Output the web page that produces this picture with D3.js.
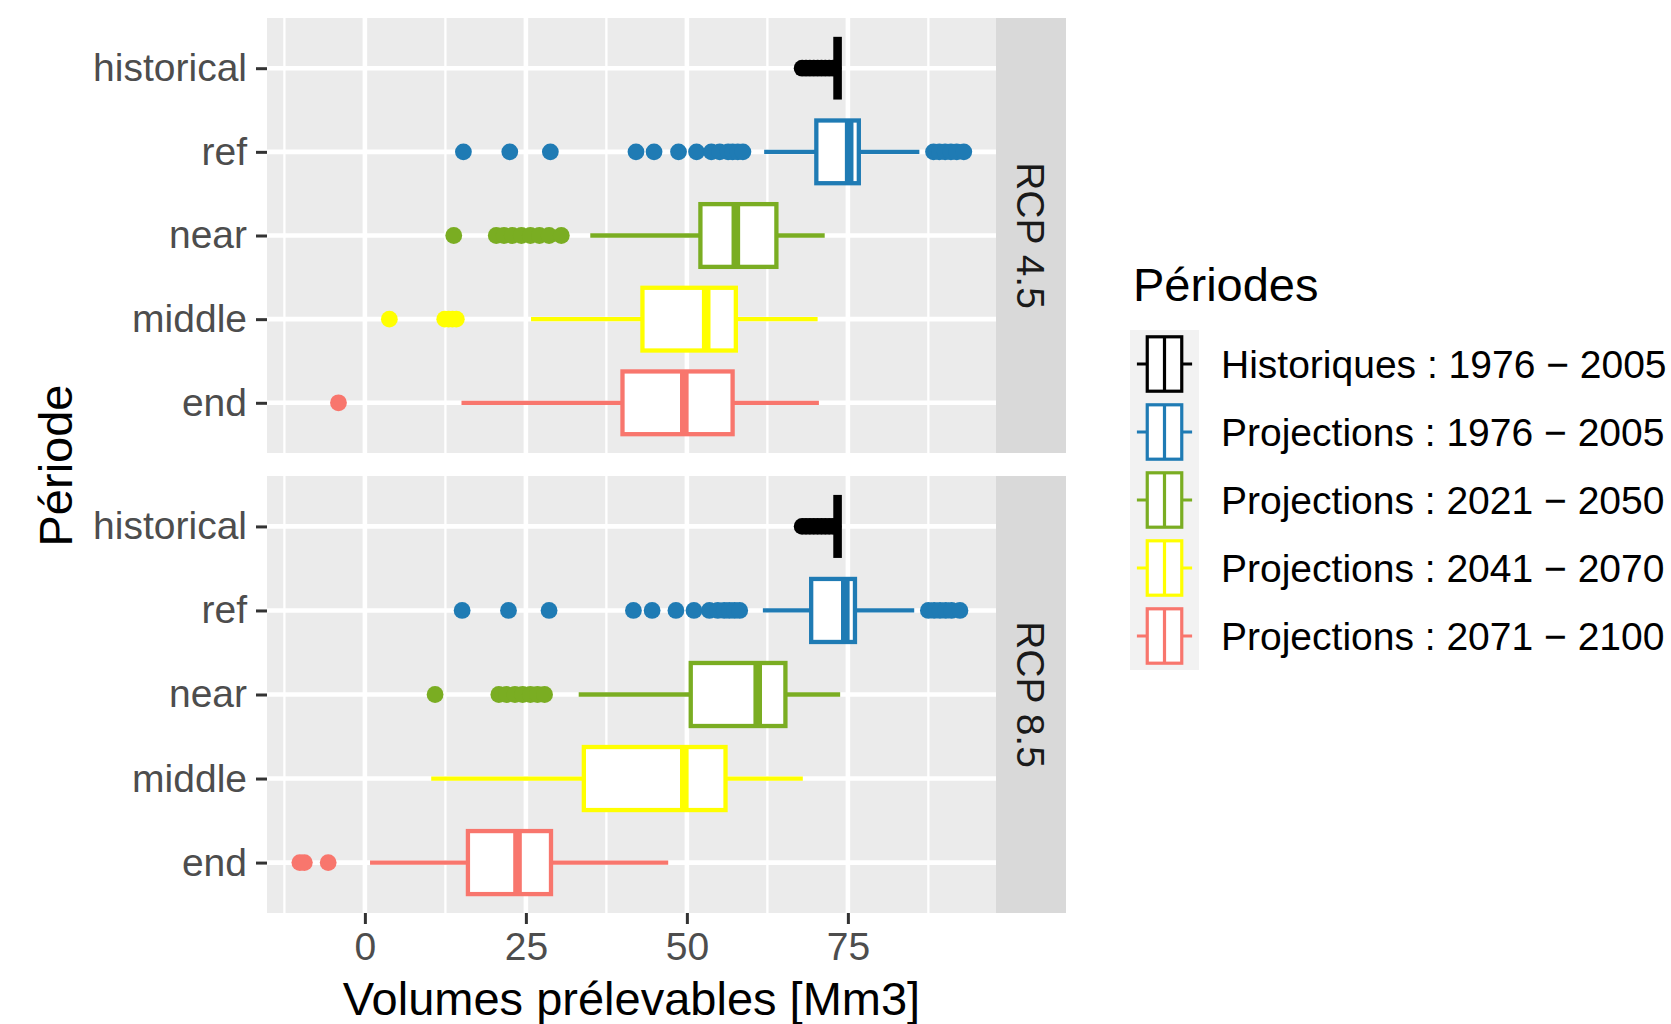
<!DOCTYPE html>
<html>
<head>
<meta charset="utf-8">
<script src="https://cdn.jsdelivr.net/npm/d3@7/dist/d3.min.js"></script>
<style>
  html, body { margin: 0; padding: 0; background: #ffffff; }
  svg { display: block; font-family: "Liberation Sans", Arial, sans-serif; }
</style>
</head>
<body>
<svg id="chart" width="1671" height="1024"></svg>
<script>
// ---------------- data ----------------
const categories = ["historical", "ref", "near", "middle", "end"];
const scenarios = ["RCP 4.5", "RCP 8.5"];
const legendLabels = [
  "Historiques : 1976 \u2212 2005",
  "Projections : 1976 \u2212 2005",
  "Projections : 2021 \u2212 2050",
  "Projections : 2041 \u2212 2070",
  "Projections : 2071 \u2212 2100"
];
const palette = ["#000000", "#1F7BB4", "#7AAD22", "#FFFF00", "#F8766D"];
const xTicks = [0, 25, 50, 75];
const xMinorTicks = [-12.5, 12.5, 37.5, 62.5, 87.5];
const xDomain = [-15.2, 98.0];

// RCP 4.5 box statistics (historical, ref, near, middle, end)
const rcp45WhiskerLow  = [73.4, 62.0, 35.0, 25.8, 15.0];
const rcp45Q1          = [73.4, 70.1, 52.1, 43.1, 40.0];
const rcp45Median      = [73.4, 75.2, 57.6, 53.0, 49.6];
const rcp45Q3          = [73.4, 76.7, 63.9, 57.6, 57.1];
const rcp45WhiskerHigh = [73.4, 86.1, 71.4, 70.3, 70.5];
const rcp45Outliers = [
  [67.9, 68.5, 69.1, 69.7, 70.3, 70.9, 71.5, 72.1, 72.7],
  [15.3, 22.5, 28.8, 42.1, 44.9, 48.7, 51.5, 53.8, 55.1, 56.4, 57.1, 57.9, 58.7, 88.3, 89.2, 90.1, 91.0, 91.9, 93.0],
  [13.8, 20.4, 21.6, 22.9, 24.3, 25.7, 27.1, 28.6, 30.5],
  [3.8, 12.4, 13.0, 13.6, 14.2],
  [-4.1]
];

// RCP 8.5 box statistics
const rcp85WhiskerLow  = [73.4, 61.8, 33.2, 10.3, 0.8];
const rcp85Q1          = [73.4, 69.3, 50.6, 34.0, 16.0];
const rcp85Median      = [73.4, 74.6, 61.0, 49.6, 23.7];
const rcp85Q3          = [73.4, 76.1, 65.3, 56.0, 28.9];
const rcp85WhiskerHigh = [73.4, 85.3, 73.8, 68.0, 47.1];
const rcp85Outliers = [
  [67.9, 68.5, 69.1, 69.7, 70.3, 70.9, 71.5, 72.1, 72.7],
  [15.1, 22.3, 28.6, 41.7, 44.6, 48.3, 51.1, 53.5, 54.8, 55.8, 56.6, 57.4, 58.2, 87.5, 88.4, 89.3, 90.2, 91.1, 92.4],
  [10.9, 20.8, 22.0, 23.3, 24.5, 25.7, 26.8, 27.9],
  [],
  [-10.1, -9.4, -5.7]
];

// ---------------- layout ----------------
const svg = d3.select("#chart");
const panelLeft = 267, panelRight = 996, stripRight = 1066;
const panels = [
  { top: 18, bottom: 453, label: scenarios[0],
    wlo: rcp45WhiskerLow, q1: rcp45Q1, med: rcp45Median, q3: rcp45Q3, whi: rcp45WhiskerHigh, out: rcp45Outliers },
  { top: 476, bottom: 913, label: scenarios[1],
    wlo: rcp85WhiskerLow, q1: rcp85Q1, med: rcp85Median, q3: rcp85Q3, whi: rcp85WhiskerHigh, out: rcp85Outliers }
];

const x = d3.scaleLinear().domain(xDomain).range([panelLeft, panelRight]);
const color = d3.scaleOrdinal().domain(categories).range(palette);

const tickFont = 39, titleFont = 47;
const boxStroke = 4.3, medianStroke = 8.6, pointR = 8.4;

panels.forEach((p, pi) => {
  const y = d3.scalePoint().domain(categories).range([p.top, p.bottom]).padding(0.6);
  const step = y.step();
  const boxH = step * 0.75;
  const g = svg.append("g");

  // panel background
  g.append("rect").attr("x", panelLeft).attr("y", p.top)
    .attr("width", panelRight - panelLeft).attr("height", p.bottom - p.top)
    .attr("fill", "#EBEBEB");

  // minor gridlines
  g.selectAll(".minor").data(xMinorTicks).enter().append("line")
    .attr("x1", d => x(d)).attr("x2", d => x(d))
    .attr("y1", p.top).attr("y2", p.bottom)
    .attr("stroke", "#ffffff").attr("stroke-width", 2.3);
  // major gridlines
  g.selectAll(".majorx").data(xTicks).enter().append("line")
    .attr("x1", d => x(d)).attr("x2", d => x(d))
    .attr("y1", p.top).attr("y2", p.bottom)
    .attr("stroke", "#ffffff").attr("stroke-width", 4.6);
  g.selectAll(".majory").data(categories).enter().append("line")
    .attr("x1", panelLeft).attr("x2", panelRight)
    .attr("y1", d => y(d)).attr("y2", d => y(d))
    .attr("stroke", "#ffffff").attr("stroke-width", 4.6);

  // strip
  g.append("rect").attr("x", panelRight).attr("y", p.top)
    .attr("width", stripRight - panelRight).attr("height", p.bottom - p.top)
    .attr("fill", "#D9D9D9");
  const sx = (panelRight + stripRight) / 2, sy = (p.top + p.bottom) / 2;
  g.append("text").attr("transform", `translate(${sx},${sy}) rotate(90)`)
    .attr("text-anchor", "middle").attr("dy", "0.36em")
    .attr("font-size", tickFont).attr("fill", "#1A1A1A").text(p.label);

  // boxplots
  categories.forEach((c, i) => {
    const cy = y(c);
    const col = color(c);
    const bg = g.append("g");
    // outliers
    bg.selectAll("circle").data(p.out[i]).enter().append("circle")
      .attr("cx", d => x(d)).attr("cy", cy).attr("r", pointR).attr("fill", col);
    // whiskers
    bg.append("line").attr("x1", x(p.wlo[i])).attr("x2", x(p.q1[i]))
      .attr("y1", cy).attr("y2", cy).attr("stroke", col).attr("stroke-width", boxStroke);
    bg.append("line").attr("x1", x(p.q3[i])).attr("x2", x(p.whi[i]))
      .attr("y1", cy).attr("y2", cy).attr("stroke", col).attr("stroke-width", boxStroke);
    // box
    bg.append("rect").attr("x", x(p.q1[i])).attr("y", cy - boxH / 2)
      .attr("width", Math.max(0, x(p.q3[i]) - x(p.q1[i]))).attr("height", boxH)
      .attr("fill", "#ffffff").attr("stroke", col).attr("stroke-width", boxStroke);
    // median
    bg.append("line").attr("x1", x(p.med[i])).attr("x2", x(p.med[i]))
      .attr("y1", cy - boxH / 2).attr("y2", cy + boxH / 2)
      .attr("stroke", col).attr("stroke-width", medianStroke);
  });

  // y axis
  const yAxis = d3.axisLeft(y).tickSize(11).tickPadding(9);
  const ya = g.append("g").attr("transform", `translate(${panelLeft},0)`).call(yAxis);
  ya.select(".domain").remove();
  ya.selectAll("line").attr("stroke", "#333333").attr("stroke-width", 3);
  ya.selectAll("text").attr("font-size", tickFont).attr("fill", "#4D4D4D")
    .attr("font-family", "'Liberation Sans', Arial, sans-serif");

  // x axis on bottom panel only
  if (pi === panels.length - 1) {
    const xAxis = d3.axisBottom(x).tickValues(xTicks).tickSize(11).tickPadding(8);
    const xa = g.append("g").attr("transform", `translate(0,${p.bottom})`).call(xAxis);
    xa.select(".domain").remove();
    xa.selectAll("line").attr("stroke", "#333333").attr("stroke-width", 3);
    xa.selectAll("text").attr("font-size", tickFont).attr("fill", "#4D4D4D")
      .attr("font-family", "'Liberation Sans', Arial, sans-serif");
  }
});

// axis titles
svg.append("text").attr("x", (panelLeft + panelRight) / 2).attr("y", 1015)
  .attr("text-anchor", "middle").attr("font-size", titleFont).attr("fill", "#000")
  .text("Volumes prélevables [Mm3]");
svg.append("text").attr("transform", `translate(72,${(18 + 913) / 2}) rotate(-90)`)
  .attr("text-anchor", "middle").attr("font-size", titleFont).attr("fill", "#000")
  .text("Période");

// legend
const lg = svg.append("g");
lg.append("text").attr("x", 1133).attr("y", 301).attr("font-size", titleFont)
  .attr("fill", "#000").text("Périodes");
const keyX = 1130, keyW = 69, keyTop = 330, keyH = 68;
legendLabels.forEach((lab, i) => {
  const ky = keyTop + i * keyH;
  const col = palette[i];
  lg.append("rect").attr("x", keyX).attr("y", ky).attr("width", keyW).attr("height", keyH)
    .attr("fill", "#F2F2F2");
  const cy = ky + keyH / 2;
  const bx1 = keyX + keyW * 0.25, bx2 = keyX + keyW * 0.75;
  lg.append("line").attr("x1", keyX + keyW * 0.1).attr("x2", bx1).attr("y1", cy).attr("y2", cy)
    .attr("stroke", col).attr("stroke-width", 3);
  lg.append("line").attr("x1", bx2).attr("x2", keyX + keyW * 0.9).attr("y1", cy).attr("y2", cy)
    .attr("stroke", col).attr("stroke-width", 3);
  lg.append("rect").attr("x", bx1).attr("y", ky + keyH * 0.1)
    .attr("width", bx2 - bx1).attr("height", keyH * 0.8)
    .attr("fill", "#ffffff").attr("stroke", col).attr("stroke-width", 3.2);
  lg.append("line").attr("x1", keyX + keyW / 2).attr("x2", keyX + keyW / 2)
    .attr("y1", ky + keyH * 0.1).attr("y2", ky + keyH * 0.9)
    .attr("stroke", col).attr("stroke-width", 3.2);
  lg.append("text").attr("x", 1221).attr("y", cy).attr("dy", "0.36em")
    .attr("font-size", tickFont).attr("fill", "#000").text(lab);
});
</script>
</body>
</html>
